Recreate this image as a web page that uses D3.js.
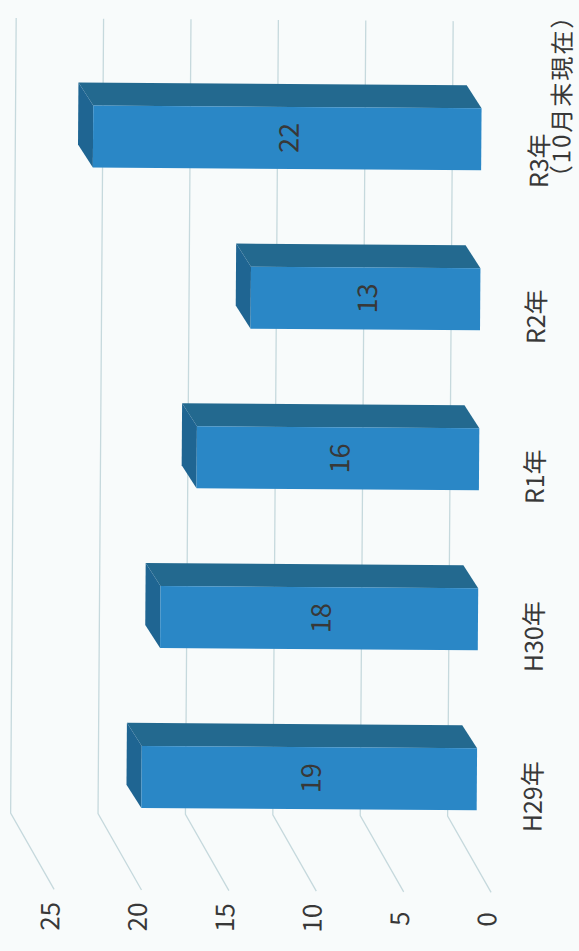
<!DOCTYPE html>
<html>
<head>
<meta charset="utf-8">
<script src="https://cdn.jsdelivr.net/npm/d3@7"></script>
<style>
  html, body { margin: 0; padding: 0; background: #f8fbfb; }
  svg { display: block; }
  text { font-family: "Noto Sans CJK JP", "Noto Sans", sans-serif; fill: #383838; }
</style>
</head>
<body>
<svg id="chart" width="579" height="951"></svg>
<script>
// Categories listed bottom-to-top as they appear along the rotated axis
const categories = ["H29年", "H30年", "R1年", "R2年", "R3年\n（10月末現在）"];
const values = [19, 18, 16, 13, 22];
const tickValues = [0, 5, 10, 15, 20, 25];

const svg = d3.select("#chart");

// whole chart sits slightly tilted on the page
const root = svg.append("g").attr("transform", "rotate(0.4, 290, 475)");

// value scales: back wall and bar front plane (chart is turned 90°, values grow leftwards)
const xWall = d3.scaleLinear().domain([0, 25]).range([450, 13]);
const xFront = d3.scaleLinear().domain([0, 25]).range([479, 479 - 25 * 17.65]);

// category scale for the bar front faces, top (R3) to bottom (H29)
const yBand = d3.scaleBand()
  .domain(categories.slice().reverse())
  .range([107, 809])
  .paddingInner(0.6125)
  .paddingOuter(0);

// oblique depth offsets
const barDepth = { dx: 15, dy: 23 };
const wallTop = 20, wallBottom = 815;
const floorDepth = { dx: 44, dy: 76 };

// gridlines: back wall plus the side wall running toward the viewer
const grid = root.append("g").attr("fill", "none").attr("stroke", "#c6d9dd").attr("stroke-width", 1.3);
grid.selectAll("path")
  .data(tickValues)
  .join("path")
  .attr("d", d => {
    const x = xWall(d);
    return `M${x},${wallTop}L${x},${wallBottom}L${x + floorDepth.dx},${wallBottom + floorDepth.dy}`;
  });

// value axis labels
root.append("g").selectAll("text")
  .data(tickValues)
  .join("text")
  .attr("transform", d => `translate(${xWall(d) + 38},918) rotate(-90)`)
  .attr("text-anchor", "middle")
  .attr("dominant-baseline", "central")
  .attr("font-size", 26)
  .text(d => d);

// 3D bars
const data = categories.map((c, i) => ({ cat: c, value: values[i] }));
const bars = root.append("g").selectAll("g").data(data).join("g");

bars.append("path") // side face (upper strip)
  .attr("fill", "#23698f")
  .attr("d", d => {
    const y = yBand(d.cat), x1 = xFront(d.value), x0 = xFront(0);
    return `M${x1 - barDepth.dx},${y - barDepth.dy}L${x0 - barDepth.dx},${y - barDepth.dy}L${x0},${y}L${x1},${y}Z`;
  });

bars.append("path") // end face (left strip)
  .attr("fill", "#1f6592")
  .attr("d", d => {
    const y = yBand(d.cat), h = yBand.bandwidth(), x1 = xFront(d.value);
    return `M${x1 - barDepth.dx},${y - barDepth.dy}L${x1},${y}L${x1},${y + h}L${x1 - barDepth.dx},${y + h - barDepth.dy}Z`;
  });

bars.append("rect") // front face
  .attr("fill", "#2a87c6")
  .attr("x", d => xFront(d.value))
  .attr("y", d => yBand(d.cat))
  .attr("width", d => xFront(0) - xFront(d.value))
  .attr("height", yBand.bandwidth());

bars.append("text") // value labels
  .attr("transform", d => `translate(${(xFront(d.value) + xFront(0)) / 2},${yBand(d.cat) + yBand.bandwidth() / 2}) rotate(-90)`)
  .attr("text-anchor", "middle")
  .attr("dominant-baseline", "central")
  .attr("font-size", 27)
  .text(d => d.value);

// category labels on the right; multi-line labels are start-aligned
const catG = root.append("g");
categories.forEach(c => {
  const lines = c.split("\n");
  const cy = yBand(c) + yBand.bandwidth() / 2 + 17;
  const t = catG.append("text")
    .attr("font-size", 25)
    .attr("dominant-baseline", "central");
  if (lines.length === 1) {
    t.attr("text-anchor", "middle")
      .attr("transform", `translate(533,${cy}) rotate(-90)`)
      .text(c);
  } else {
    t.attr("text-anchor", "start");
    lines.forEach((ln, j) => {
      t.append("tspan")
        .attr("x", j === 0 ? 0 : -1)
        .attr("y", j * 22)
        .attr("font-size", j === 0 ? 25 : 24)
        .attr("letter-spacing", j === 0 ? 0 : 2)
        .text(ln);
    });
    const firstLen = t.select("tspan").node().getComputedTextLength();
    t.attr("transform", `translate(535,${cy + firstLen / 2 + 4}) rotate(-90)`);
  }
});
</script>
</body>
</html>
